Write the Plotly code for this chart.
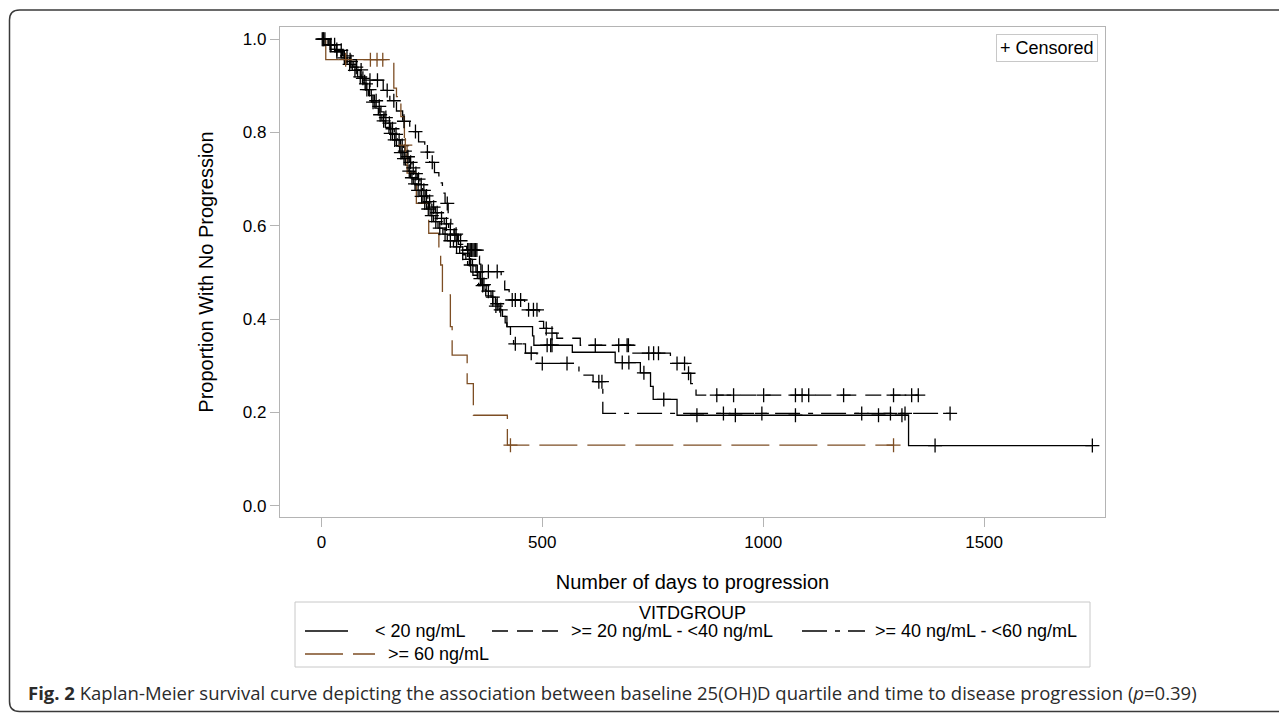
import numpy as np
import plotly.graph_objects as go

# ---------------- data ----------------
group_names = ["< 20 ng/mL", ">= 20 ng/mL - <40 ng/mL",
               ">= 40 ng/mL - <60 ng/mL", ">= 60 ng/mL"]

# Group 1: < 20 ng/mL  (event days and survival after each event)
g1_days = [15, 30, 45, 58, 70, 82, 93, 99, 107, 114,
           121, 129, 137, 145, 153, 161, 170, 177, 183, 190,
           196, 202, 208, 215, 223, 230, 238, 246, 254, 264,
           275, 285, 299, 313, 327, 342, 350, 357, 363, 373,
           384, 394, 402, 410, 416, 420, 478, 481, 568, 665,
           722, 745, 751, 805, 1329]
g1_surv = [0.987, 0.973, 0.960, 0.946, 0.933, 0.919, 0.906, 0.892, 0.879, 0.865,
           0.852, 0.838, 0.825, 0.811, 0.798, 0.784, 0.771, 0.757, 0.744, 0.730,
           0.717, 0.703, 0.690, 0.676, 0.663, 0.649, 0.636, 0.622, 0.609, 0.595,
           0.582, 0.568, 0.555, 0.541, 0.528, 0.514, 0.501, 0.487, 0.474, 0.460,
           0.447, 0.433, 0.420, 0.406, 0.392, 0.384, 0.364, 0.344, 0.329, 0.307,
           0.285, 0.256, 0.228, 0.194, 0.129]
g1_censor = [4, 20, 35, 52, 64, 76, 88, 103, 117, 133, 141, 157, 166, 180, 187,
             199, 205, 212, 219, 227, 234, 242, 250, 259, 268, 280, 292, 306, 320,
             335, 353, 360, 368, 378, 388, 398, 406, 511, 519, 522, 681, 696, 730,
             775, 850, 937, 1073, 1261, 1314, 1389, 1745]

# Group 2: >= 20 - <40 ng/mL
g2_days = [17, 34, 51, 62, 72, 83, 90, 97, 105, 113,
           120, 127, 135, 142, 150, 157, 165, 172, 179, 186,
           192, 199, 205, 211, 217, 223, 229, 235, 241, 250,
           258, 266, 278, 288, 296, 308, 322, 329, 356, 358,
           361, 407, 415, 425, 460, 493, 503, 515, 533, 586,
           703, 790, 828, 836, 843, 848]
g2_surv = [0.988, 0.976, 0.964, 0.952, 0.940, 0.928, 0.916, 0.904, 0.892, 0.880,
           0.868, 0.856, 0.844, 0.832, 0.820, 0.808, 0.796, 0.784, 0.772, 0.760,
           0.748, 0.736, 0.724, 0.712, 0.700, 0.688, 0.676, 0.664, 0.652, 0.640,
           0.628, 0.616, 0.604, 0.592, 0.580, 0.568, 0.556, 0.548, 0.535, 0.518,
           0.502, 0.482, 0.463, 0.441, 0.420, 0.395, 0.380, 0.370, 0.359, 0.344,
           0.327, 0.305, 0.284, 0.262, 0.250, 0.237]
g2_censor = [2, 8, 22, 30, 45, 58, 67, 79, 94, 101, 109, 124, 131, 146, 154, 161,
             169, 176, 183, 189, 196, 202, 208, 214, 220, 226, 232, 238, 245, 254,
             262, 272, 283, 292, 302, 315, 331, 334, 337, 340, 343, 346, 349, 352,
             364, 378, 398, 432, 439, 451, 469, 480, 488, 509, 522, 620, 673, 692,
             695, 741, 752, 763, 805, 822, 831, 895, 933, 1001, 1073, 1088, 1103,
             1182, 1295, 1336, 1351]

# Group 3: >= 40 - <60 ng/mL
g3_days = [20, 48, 80, 98, 140, 155, 170, 184, 200, 220,
           234, 245, 256, 266, 274, 280, 287, 293, 300, 310,
           320, 331, 343, 356, 372, 388, 404, 420, 428, 435,
           462, 488, 583, 615, 637]
g3_surv = [0.978, 0.956, 0.934, 0.912, 0.890, 0.868, 0.846, 0.824, 0.802, 0.780,
           0.758, 0.736, 0.714, 0.692, 0.670, 0.648, 0.626, 0.604, 0.582, 0.560,
           0.538, 0.516, 0.494, 0.472, 0.450, 0.428, 0.406, 0.384, 0.362, 0.347,
           0.327, 0.305, 0.280, 0.266, 0.198]
g3_censor = [5, 35, 65, 90, 110, 127, 149, 164, 187, 213, 240, 251, 285, 305, 338,
             365, 395, 439, 475, 500, 556, 628, 635, 910, 997, 1223, 1288, 1321, 1423]

# Group 4: >= 60 ng/mL
g4_days = [10, 164, 170, 180, 188, 194, 215, 243, 266, 270, 274, 292, 296, 330, 344, 421]
g4_surv = [0.956, 0.895, 0.877, 0.834, 0.773, 0.713, 0.648, 0.584, 0.541, 0.516,
           0.452, 0.384, 0.323, 0.262, 0.194, 0.130]
g4_censor = [55, 111, 126, 139, 190, 428, 1295]

x_ticks = [0, 500, 1000, 1500]
y_ticks = [0.0, 0.2, 0.4, 0.6, 0.8, 1.0]

# ---------------- styling ----------------
BLACK = "#000000"
BROWN = "#7d4e24"
colors = [BLACK, BLACK, BLACK, BROWN]
dashes = ["solid", "16px,9px", "25px,8px,5px,8px", "38px,10px"]
FONT = "Liberation Sans, Arial, sans-serif"

W, H = 1287, 713
OFF = 8                      # page offset of the plot div (body margin)
ML, MT = 280 - OFF, 27 - OFF
PW, PH = 825, 490
MR, MB = W - ML - PW, H - MT - PH


def fx(px):
    """page x pixel -> paper fraction"""
    return (px - OFF - ML) / PW


def fy(py):
    """page y pixel -> paper fraction"""
    return (MT + PH - (py - OFF)) / PH


def surv_at(days, surv, t):
    i = int(np.searchsorted(np.asarray(days), t, side="right"))
    return 1.0 if i == 0 else surv[i - 1]


groups = [
    (g1_days, g1_surv, g1_censor),
    (g2_days, g2_surv, g2_censor),
    (g3_days, g3_surv, g3_censor),
    (g4_days, g4_surv, g4_censor),
]

fig = go.Figure()
for k, (days, surv, cens) in enumerate(groups):
    last = max(max(cens), max(days))
    xs = [0] + list(days) + [last]
    ys = [1.0] + list(surv) + [surv[-1]]
    fig.add_trace(go.Scatter(
        x=xs, y=ys, mode="lines", line_shape="hv", name=group_names[k],
        line=dict(color=colors[k], width=1.3, dash=dashes[k]),
        showlegend=False, hoverinfo="skip"))
for k, (days, surv, cens) in enumerate(groups):
    cy = [surv_at(days, surv, t) for t in cens]
    fig.add_trace(go.Scatter(
        x=cens, y=cy, mode="markers", name=group_names[k] + " censored",
        marker=dict(symbol="cross-thin", size=10, color=colors[k],
                    line=dict(width=1.3, color=colors[k])),
        showlegend=False))

axis_common = dict(showgrid=False, zeroline=False, showline=True, mirror=True,
                   linecolor="#b4b4b4", linewidth=1.2, ticks="outside",
                   ticklen=9, tickwidth=1.2, tickcolor="#b4b4b4",
                   tickfont=dict(family=FONT, size=17, color="#000000"))

fig.update_layout(
    width=W, height=H,
    margin=dict(l=ML, r=MR, t=MT, b=MB, pad=0),
    paper_bgcolor="white", plot_bgcolor="white",
    font=dict(family=FONT, color="#000000"),
    xaxis=dict(range=[-93.6, 1773.6], tickvals=x_ticks,
               title=dict(text="Number of days to progression",
                          font=dict(family=FONT, size=20), standoff=24),
               **axis_common),
    yaxis=dict(range=[-0.024, 1.026], tickvals=y_ticks, tickformat=".1f",
               title=dict(text="Proportion With No Progression",
                          font=dict(family=FONT, size=20), standoff=23),
               **axis_common),
    showlegend=False,
)

# ---- "+ Censored" inset legend ----
fig.add_annotation(x=fx(1098), y=fy(34), xref="paper", yref="paper",
                   xanchor="right", yanchor="top", showarrow=False,
                   text="+ Censored", font=dict(family=FONT, size=18, color="#000"),
                   bordercolor="#c8c8c8", borderwidth=1, borderpad=3, bgcolor="white")

# ---- group legend below the plot ----
shapes = [dict(type="rect", xref="paper", yref="paper",
               x0=fx(295), x1=fx(1090), y0=fy(602), y1=fy(667),
               line=dict(color="#c8c8c8", width=1), fillcolor="rgba(0,0,0,0)")]
fig.add_annotation(x=0.5, y=fy(613), xref="paper", yref="paper", showarrow=False,
                   text="VITDGROUP", font=dict(family=FONT, size=18, color="#000"),
                   xanchor="center", yanchor="middle")
legend_items = [  # (sample x0, sample x1, text x, row y) in page pixels
    (305, 348, 373, 631),
    (492, 558, 569, 631),
    (802, 865, 873, 631),
    (305, 375, 386, 654),
]
for k, (sx0, sx1, tx, ry) in enumerate(legend_items):
    shapes.append(dict(type="line", xref="paper", yref="paper",
                       x0=fx(sx0), x1=fx(sx1), y0=fy(ry), y1=fy(ry),
                       line=dict(color=colors[k], width=1.3, dash=dashes[k])))
    fig.add_annotation(x=fx(tx), y=fy(ry), xref="paper", yref="paper", showarrow=False,
                       text=group_names[k], font=dict(family=FONT, size=18, color="#000"),
                       xanchor="left", yanchor="middle")

# ---- figure frame (rounded rectangle) ----
r = 10
frame_path = (f"M {fx(W + 20)},{fy(10)} L {fx(9.5 + r)},{fy(10)} "
              f"Q {fx(9.5)},{fy(10)} {fx(9.5)},{fy(10 + r)} "
              f"L {fx(9.5)},{fy(711.5 - r)} Q {fx(9.5)},{fy(711.5)} {fx(9.5 + r)},{fy(711.5)} "
              f"L {fx(W + 20)},{fy(711.5)}")
shapes.append(dict(type="path", xref="paper", yref="paper", path=frame_path,
                   line=dict(color="#3a3a3a", width=1.5)))
fig.update_layout(shapes=shapes)

# ---- caption ----
fig.add_annotation(x=fx(26), y=fy(692), xref="paper", yref="paper", showarrow=False,
                   xanchor="left", yanchor="middle",
                   text=("<b>Fig. 2</b> Kaplan-Meier survival curve depicting the association "
                         "between baseline 25(OH)D quartile and time to disease progression "
                         "(<i>p</i>=0.39)"),
                   font=dict(family="Open Sans, sans-serif", size=18.5, color="#2b2b2b"))

fig.write_html("out.html")
